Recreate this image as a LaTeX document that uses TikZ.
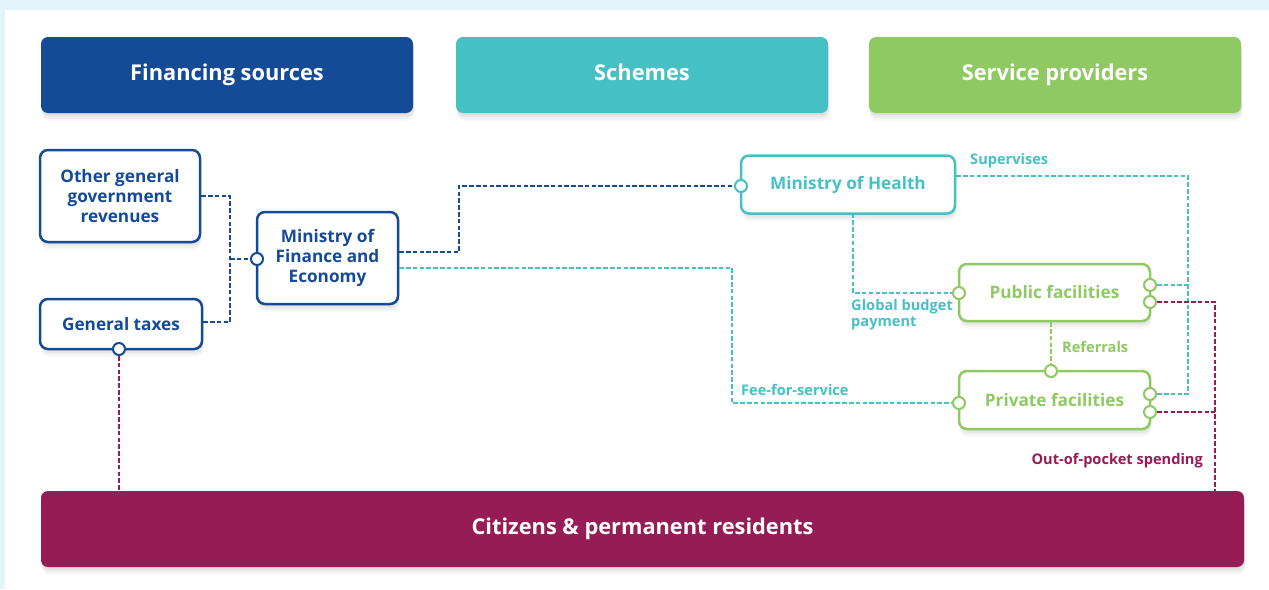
\documentclass[tikz,border=0pt]{standalone}
\usepackage{fontspec}
\IfFontExistsTF{NotoSans-Bold.ttf}{%
  \setmainfont{NotoSans-Regular.ttf}[BoldFont=NotoSans-Bold.ttf]}{%
 \IfFontExistsTF{Open Sans Bold}{%
  \setmainfont{Open Sans}}{%
  \IfFontExistsTF{Fira Sans Bold}{%
   \setmainfont{Fira Sans}}{%
   \setmainfont{Noto Sans}[BoldFeatures={FakeBold=2}]}}}
\definecolor{dblue}{HTML}{154B96}
\definecolor{tealc}{HTML}{45C1C6}
\definecolor{lgreen}{HTML}{8FC962}
\definecolor{maroon}{HTML}{961C55}
\definecolor{bgblue}{HTML}{E3F4FB}
\pgfdeclarelayer{fg}
\pgfsetlayers{main,fg}
\tikzset{
  shd/.style={
    preaction={fill=black,fill opacity=0.035,transform canvas={xshift=0.5pt,yshift=-2pt}},
    preaction={fill=black,fill opacity=0.035,transform canvas={xshift=1pt,yshift=-4pt}},
    preaction={fill=black,fill opacity=0.03,transform canvas={xshift=1pt,yshift=-6pt}},
    preaction={fill=black,fill opacity=0.025,transform canvas={xshift=1pt,yshift=-8pt}}},
  header/.style={shd,rectangle,rounded corners=7pt,fill=#1,draw=none,text=white,
    minimum width=372pt,minimum height=76pt,text height=16pt,text depth=4.5pt,
    font=\bfseries\fontsize{21.8}{26}\selectfont},
  box/.style={shd,rectangle,rounded corners=8pt,fill=white,draw=#1,line width=2.5pt,text=#1,
    align=center,font=\bfseries\fontsize{17.2}{20}\selectfont,inner sep=2pt},
  port/.style={circle,fill=white,draw=#1,line width=2pt,minimum size=12pt,inner sep=0pt},
  link/.style={draw=#1,line width=2.4pt,dash pattern=on 4.5pt off 2.3pt},
  lbl/.style={text=#1,font=\bfseries\fontsize{14.6}{16.5}\selectfont,inner sep=0pt,align=left}
}
\begin{document}
\begin{tikzpicture}[x=1pt,y=1pt]
\useasboundingbox (0,0) rectangle (1269,-589);
\fill[white] (0,0) rectangle (1269,-589);
\fill[bgblue] (0,0) rectangle (1269,-10);
\fill[bgblue] (0,0) rectangle (5,-589);

% headers
\node[header=dblue] (hfin) at (227,-75) {Financing sources};
\node[header=tealc] (hsch) at (642,-75) {Schemes};
\node[header=lgreen] (hsp) at (1055,-75) {Service providers};
\node[header=maroon,minimum width=1203pt] (cit) at (642.5,-529) {Citizens \& permanent residents};

% boxes
\node[box=dblue,minimum width=160pt,minimum height=92pt] (oth) at (120,-196) {Other general\\government\\revenues};
\node[box=dblue,minimum width=162pt,minimum height=50pt] (gt) at (121,-324) {General taxes};
\node[box=dblue,minimum width=141pt,minimum height=92pt] (mofe) at (327.5,-258) {Ministry of\\Finance and\\Economy};
\node[box=tealc,minimum width=214pt,minimum height=58pt] (moh) at (848,-184.5) {Ministry of Health};
\node[box=lgreen,minimum width=191pt,minimum height=57pt] (pub) at (1054.5,-292.5) {Public facilities};
\node[box=lgreen,minimum width=191pt,minimum height=58pt] (priv) at (1054.5,-400) {Private facilities};

% ports
\begin{pgfonlayer}{fg}
\node[port=dblue] (mofeL) at (257,-259) {};
\node[port=dblue] (gtB) at (119,-349) {};
\node[port=tealc] (mohL) at (741,-186) {};
\node[port=lgreen] (pubL) at (959,-293) {};
\node[port=lgreen] (pubR1) at (1150,-285) {};
\node[port=lgreen] (pubR2) at (1150,-302) {};
\node[port=lgreen] (privT) at (1051,-371) {};
\node[port=lgreen] (privL) at (959,-403) {};
\node[port=lgreen] (privR1) at (1150,-394) {};
\node[port=lgreen] (privR2) at (1150,-412) {};
\end{pgfonlayer}

% junction / corner coordinates
\coordinate (j1) at (230,-259);
\coordinate (sv) at (1188,-394);
\coordinate (oopB) at (1215,-491);

% connectors
\draw[link=dblue] (oth.east |- 0,-196) -| (j1);
\draw[link=dblue] (gt.east |- 0,-322) -| (j1);
\draw[link=dblue] (j1) -- (mofeL);
\draw[link=dblue] (mofe.east |- 0,-252) -- (459,-252) |- (mohL);
\draw[link=tealc] (mofe.east |- 0,-268) -- (732,-268) |- (privL);
\draw[link=tealc] (853,-213.5) |- (pubL);
\draw[link=tealc] (moh.east |- 0,-176) -| (sv) -- (privR1);
\draw[link=tealc] (pubR1) -- (pubR1 -| sv);
\draw[link=maroon] (pubR2) -| (oopB);
\draw[link=maroon] (privR2) -- (privR2 -| oopB);
\draw[link=maroon] (gtB) -- (gtB |- cit.north);
\draw[link=lgreen] (privT |- pub.south) -- (privT);

% labels
\node[lbl=tealc,anchor=west] (lsup) at (970,-161) {Supervises};
\node[lbl=tealc,anchor=north west] (lgb) at (851,-299) {Global budget\\payment};
\node[lbl=tealc,anchor=west] (lffs) at (741,-390) {Fee-for-service};
\node[lbl=lgreen,anchor=west] (lref) at (1062,-347) {Referrals};
\node[lbl=maroon,anchor=east] (loop) at (1203,-461) {Out-of-pocket spending};
\end{tikzpicture}
\end{document}
